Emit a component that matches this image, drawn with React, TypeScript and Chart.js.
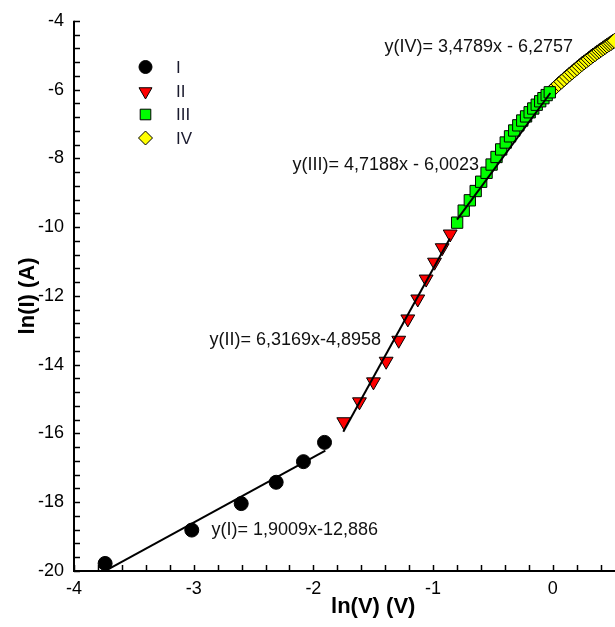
import React, { useEffect, useRef } from 'react';
import { Chart, registerables } from 'chart.js';
import { drawPoint } from 'chart.js/helpers';

Chart.register(...registerables);

// ---- data ----
const seriesNames = ['I', 'II', 'III', 'IV'];

const xI = [-3.74, -3.016, -2.603, -2.311, -2.083, -1.907];
const yI = [-19.78, -18.81, -18.04, -17.42, -16.82, -16.26];

const xII = [-1.746, -1.615, -1.498, -1.392, -1.287, -1.211, -1.128, -1.058, -0.988, -0.924, -0.857];
const yII = [-15.66, -15.08, -14.5, -13.9, -13.29, -12.67, -12.09, -11.51, -11.02, -10.6, -10.2];

const xIII = [-0.799, -0.744, -0.693, -0.644, -0.598, -0.553, -0.511, -0.47, -0.431, -0.393, -0.357,
  -0.322, -0.288, -0.255, -0.223, -0.193, -0.163, -0.134, -0.105, -0.078, -0.051, -0.025];
const yIII = [-9.87, -9.52, -9.22, -8.95, -8.68, -8.42, -8.18, -7.96, -7.74, -7.54, -7.36,
  -7.19, -7.04, -6.9, -6.78, -6.66, -6.55, -6.44, -6.34, -6.25, -6.16, -6.08];

const xIV = [0, 0.025, 0.049, 0.072, 0.095, 0.118, 0.14, 0.161, 0.182, 0.203, 0.223, 0.243, 0.262, 0.281,
  0.3, 0.318, 0.336, 0.354, 0.372, 0.389, 0.405, 0.422, 0.438, 0.454, 0.47, 0.486, 0.501, 0.516];
const yIV = [-6.0, -5.92, -5.84, -5.77, -5.7, -5.63, -5.56, -5.5, -5.44, -5.38, -5.32, -5.26, -5.21, -5.16,
  -5.11, -5.06, -5.01, -4.97, -4.92, -4.88, -4.84, -4.8, -4.76, -4.72, -4.68, -4.65, -4.61, -4.58];

// fit line end points
const fitIx = [-3.72, -1.9];
const fitIy = [-19.96, -16.5];
const fitIIx = [-1.75, -0.86];
const fitIIy = [-15.95, -10.33];
const fitIIIx = [-0.8, -0.02];
const fitIIIy = [-9.78, -6.1];

const equations = [
  'y(I)= 1,9009x-12,886',
  'y(II)= 6,3169x-4,8958',
  'y(III)= 4,7188x - 6,0023',
  'y(IV)= 3,4789x - 6,2757',
];

const xTicks = [-4, -3, -2, -1, 0];
const yTicks = [-20, -18, -16, -14, -12, -10, -8, -6, -4];

const xTitle = 'ln(V) (V)';
const yTitle = 'ln(I) (A)';

const X_MIN = -4;
const X_MAX = 0.52;
const Y_MIN = -20;
const Y_MAX = -4;

const FONT = '"Liberation Sans", Arial, sans-serif';

const pts = (xs: number[], ys: number[]) => xs.map((x, i) => ({ x, y: ys[i] }));

const markerStyles = [
  { pointStyle: 'circle', radius: 7, rotation: 0, fill: '#000000' },
  { pointStyle: 'triangle', radius: 8, rotation: 180, fill: '#ff0000' },
  { pointStyle: 'rect', radius: 8, rotation: 0, fill: '#00ff00' },
  { pointStyle: 'rectRot', radius: 7.5, rotation: 0, fill: '#ffff00' },
];

// annotation anchors (data coords of the left/middle of each text)
const eqAnchors = [
  { x: -2.851, y: -18.81 },
  { x: -2.868, y: -13.29 },
  { x: -2.175, y: -8.2 },
  { x: -1.406, y: -4.75 },
];

const decoPlugin = {
  id: 'deco',
  afterDraw(chart: any) {
    const { ctx, chartArea } = chart;
    const xs = chart.scales.x;
    const ys = chart.scales.y;
    ctx.save();
    ctx.strokeStyle = '#000';
    ctx.lineCap = 'butt';
    // ticks (inward)
    ctx.lineWidth = 1.5;
    const L = 6;
    for (let i = 0; ; i++) {
      const v = X_MIN + i * 0.2;
      if (v > X_MAX + 1e-9) break;
      const px = Math.round(xs.getPixelForValue(v)) + 0.5;
      ctx.beginPath();
      ctx.moveTo(px, chartArea.bottom);
      ctx.lineTo(px, chartArea.bottom - L);
      ctx.stroke();
    }
    for (let i = 0; ; i++) {
      const v = Y_MIN + i * 0.4;
      if (v > Y_MAX + 1e-9) break;
      const py = Math.round(ys.getPixelForValue(v)) + 0.5;
      ctx.beginPath();
      ctx.moveTo(chartArea.left, py);
      ctx.lineTo(chartArea.left + L, py);
      ctx.stroke();
    }
    // axis lines
    ctx.lineWidth = 2;
    ctx.beginPath();
    ctx.moveTo(chartArea.left, chartArea.top);
    ctx.lineTo(chartArea.left, chartArea.bottom);
    ctx.lineTo(chartArea.right, chartArea.bottom);
    ctx.stroke();

    // x-axis title (placed like the reference, right of the axis centre)
    ctx.fillStyle = '#000';
    ctx.font = `bold 22px ${FONT}`;
    ctx.textAlign = 'center';
    ctx.textBaseline = 'middle';
    ctx.fillText(xTitle, xs.getPixelForValue(-1.5), 607);

    // legend
    const legX = 145.5;
    const legY = [67, 91.5, 114.5, 138];
    ctx.lineWidth = 1;
    seriesNames.forEach((name, i) => {
      const m = markerStyles[i];
      ctx.fillStyle = m.fill;
      ctx.strokeStyle = '#000';
      drawPoint(ctx, { pointStyle: m.pointStyle, radius: m.radius - 0.5, rotation: m.rotation, borderWidth: 1 }, legX, legY[i]);
      ctx.fillStyle = '#1a1a2e';
      ctx.font = `17px ${FONT}`;
      ctx.textAlign = 'left';
      ctx.textBaseline = 'middle';
      ctx.fillText(name, 176, legY[i] + 1);
    });

    // equations
    ctx.fillStyle = '#111';
    ctx.font = `18px ${FONT}`;
    ctx.textAlign = 'left';
    ctx.textBaseline = 'middle';
    equations.forEach((t, i) => {
      const a = eqAnchors[i];
      ctx.fillText(t, xs.getPixelForValue(a.x), ys.getPixelForValue(a.y));
    });
    ctx.restore();
  },
};

export default function App() {
  const ref = useRef<HTMLCanvasElement | null>(null);
  useEffect(() => {
    if (!ref.current) return;
    const lineDs = (xs: number[], ys: number[]) => ({
      type: 'scatter' as const,
      data: pts(xs, ys),
      showLine: true,
      borderColor: '#000',
      borderWidth: 2,
      pointRadius: 0,
      pointHoverRadius: 0,
      fill: false,
    });
    const markerDs = (xs: number[], ys: number[], i: number) => ({
      type: 'scatter' as const,
      label: seriesNames[i],
      data: pts(xs, ys),
      showLine: false,
      pointStyle: markerStyles[i].pointStyle,
      pointRadius: markerStyles[i].radius,
      pointRotation: markerStyles[i].rotation,
      pointBackgroundColor: markerStyles[i].fill,
      pointBorderColor: '#000',
      pointBorderWidth: 1,
    });
    const chart = new Chart(ref.current, {
      type: 'scatter',
      data: {
        datasets: [
          lineDs(fitIx, fitIy),
          lineDs(fitIIx, fitIIy),
          lineDs(fitIIIx, fitIIIy),
          markerDs(xI, yI, 0),
          markerDs(xII, yII, 1),
          markerDs(xIII, yIII, 2),
          markerDs(xIV, yIV, 3),
        ] as any,
      },
      options: {
        animation: false,
        responsive: false,
        layout: { autoPadding: false, padding: { top: 17, right: 0, bottom: 0, left: 0 } },
        plugins: { legend: { display: false }, tooltip: { enabled: false } },
        scales: {
          x: {
            type: 'linear',
            min: X_MIN,
            max: X_MAX,
            afterBuildTicks: (s: any) => { s.ticks = xTicks.map((v) => ({ value: v })); },
            afterFit: (s: any) => { s.height = 56; s.paddingRight = 0; s.paddingLeft = 0; },
            grid: { display: false, drawTicks: false },
            border: { display: false },
            ticks: {
              color: '#000',
              font: { family: FONT, size: 18 },
              padding: 7,
              maxRotation: 0,
              autoSkip: false,
              callback: (v: any) => String(v),
            },
            title: { display: false },
          },
          y: {
            type: 'linear',
            min: Y_MIN,
            max: Y_MAX,
            afterBuildTicks: (s: any) => { s.ticks = yTicks.map((v) => ({ value: v })); },
            afterFit: (s: any) => { s.width = 74; },
            grid: { display: false, drawTicks: false },
            border: { display: false },
            ticks: {
              color: '#000',
              font: { family: FONT, size: 18 },
              padding: 10,
              autoSkip: false,
              callback: (v: any) => String(v),
            },
            title: {
              display: true,
              text: yTitle,
              color: '#000',
              font: { family: FONT, size: 22, weight: 'bold', lineHeight: 1 },
              padding: { top: 16.5, bottom: 0 },
            },
          },
        },
      } as any,
      plugins: [decoPlugin],
    });
    return () => chart.destroy();
  }, []);
  return (
    <div style={{ position: 'fixed', left: 0, top: 0, width: 615, height: 627, background: '#fff' }}>
      <canvas ref={ref} width={615} height={627} />
    </div>
  );
}
